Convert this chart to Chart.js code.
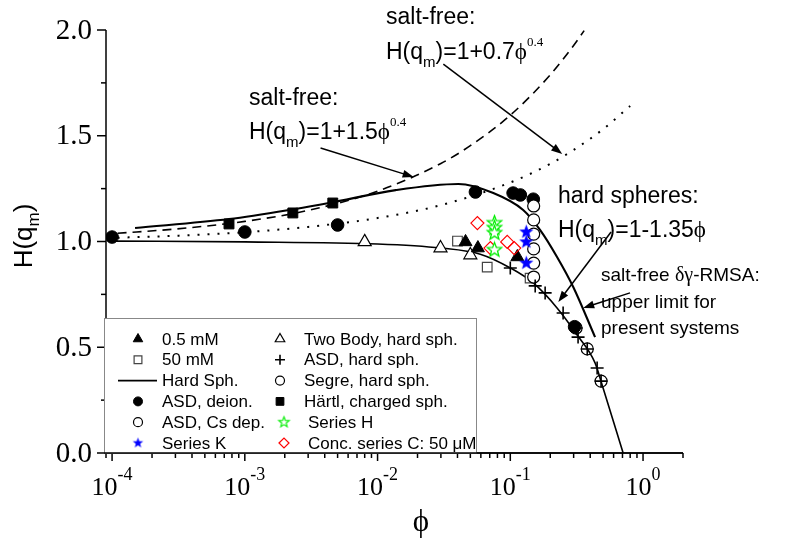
<!DOCTYPE html>
<html>
<head>
<meta charset="utf-8">
<script src="https://cdn.jsdelivr.net/npm/chart.js@4.4.0/dist/chart.umd.min.js"></script>
<style>
  html, body { margin: 0; padding: 0; background: #fff; }
  #wrap { width: 812px; height: 541px; }
</style>
</head>
<body>
<div id="wrap"><canvas id="chart"></canvas></div>
<script>
// measured structure factor peak heights H(q_m) against volume fraction phi

// 0.5 mM salt
const phi05mM = [0.046, 0.057, 0.113];
const h05mM = [0.998, 0.969, 0.927];

// 50 mM salt
const phi50mM = [0.040, 0.067, 0.141];
const h50mM = [1.002, 0.879, 0.827];

// ASD, deionized
const phiDeion = [1e-4, 1e-3, 0.005, 0.0546, 0.105, 0.119, 0.149, 0.305];
const hDeion = [1.021, 1.045, 1.078, 1.234, 1.229, 1.220, 1.200, 0.597];

// ASD, Cs depleted
const phiCsDep = [0.15, 0.15, 0.15, 0.15, 0.15, 0.15];
const hCsDep = [1.168, 1.102, 1.035, 0.965, 0.898, 0.832];

// Series K
const phiSeriesK = [0.132, 0.132, 0.132];
const hSeriesK = [1.045, 0.998, 0.898];

// Two body, hard spheres
const phiTwoBody = [0.008, 0.0298, 0.050];
const hTwoBody = [0.998, 0.969, 0.936];

// ASD, hard spheres
const phiAsdHs = [0.100, 0.154, 0.183, 0.250, 0.313, 0.324, 0.380, 0.451, 0.483];
const hAsdHs = [0.875, 0.790, 0.757, 0.662, 0.591, 0.548, 0.492, 0.402, 0.340];

// Segre, hard spheres
const phiSegre = [0.313, 0.380, 0.483];
const hSegre = [0.591, 0.492, 0.340];

// Haertl, charged spheres
const phiHaertl = [7.6e-4, 0.0023, 0.0046];
const hHaertl = [1.083, 1.135, 1.182];

// Series H
const phiSeriesH = [0.076, 0.076, 0.076, 0.076];
const hSeriesH = [1.087, 1.064, 1.040, 0.960];

// concentration series C, 50 uM
const phiConcC = [0.0565, 0.0708, 0.0948, 0.107];
const hConcC = [1.087, 0.969, 0.998, 0.969];

// hard sphere curve
const phiHardSph = [1e-4, 1e-3, 0.01, 0.03, 0.0594, 0.1, 0.149, 0.225, 0.319, 0.435, 0.492, 0.708];
const hHardSph = [1.002, 0.998, 0.988, 0.969, 0.940, 0.875, 0.804, 0.686, 0.558, 0.426, 0.321, 0.0];

// salt-free delta-gamma RMSA, upper limit
const phiRmsa = [1.49e-4, 7.6e-4, 0.0024, 0.0043, 0.0137, 0.0407, 0.0745, 0.125, 0.168, 0.225, 0.298, 0.435];
const hRmsa = [1.064, 1.106, 1.154, 1.182, 1.243, 1.272, 1.229, 1.149, 1.054, 0.927, 0.785, 0.548];

// salt-free 1+1.5phi^0.4
const phiSalt15 = [1.1e-4, 3e-4, 1e-3, 3e-3, 0.01, 0.03, 0.05, 0.1, 0.2, 0.3, 0.36];
const hSalt15 = [1.039, 1.059, 1.095, 1.147, 1.238, 1.369, 1.453, 1.597, 1.788, 1.927, 1.997];

// salt-free 1+0.7phi^0.4
const phiSalt07 = [1.1e-4, 3e-4, 1e-3, 3e-3, 0.01, 0.03, 0.1, 0.2, 0.3, 0.5, 0.8];
const hSalt07 = [1.018, 1.027, 1.044, 1.069, 1.111, 1.172, 1.279, 1.367, 1.433, 1.531, 1.641];

const yTickStep = 0.25;

const SANS = '"Liberation Sans", Arial, sans-serif';
const SERIF = '"Liberation Serif", "Times New Roman", serif';

function pts(xs, ys) {
  return xs.map((x, i) => ({ x: x, y: ys[i] }));
}

// five pointed star as an image point style
function starImage(r, fill, stroke, lw) {
  const s = Math.ceil(2 * r + lw + 2);
  const c = document.createElement('canvas');
  c.width = s; c.height = s;
  const g = c.getContext('2d');
  g.beginPath();
  for (let i = 0; i < 10; i++) {
    const a = -Math.PI / 2 + i * Math.PI / 5;
    const rr = i % 2 ? r * 0.42 : r;
    g.lineTo(s / 2 + rr * Math.cos(a), s / 2 + rr * Math.sin(a));
  }
  g.closePath();
  g.fillStyle = fill;
  g.fill();
  if (stroke) {
    g.strokeStyle = stroke;
    g.lineWidth = lw;
    g.stroke();
  }
  return c;
}

const starBlue = starImage(7.5, '#0000ff', null, 0);
const starGreen = starImage(7.5, '#fff', '#00ee00', 1.3);
const starBlueSmall = starImage(5.5, '#0000ff', null, 0);
const starGreenSmall = starImage(5.5, '#fff', '#00ee00', 1.1);

function markers(label, xs, ys, style, r, fill, stroke, bw, legendStyle, legendR) {
  return {
    label: label,
    data: pts(xs, ys),
    showLine: false,
    pointStyle: style,
    pointRadius: r,
    pointHoverRadius: r,
    pointBackgroundColor: fill,
    pointBorderColor: stroke,
    pointBorderWidth: bw,
    legendStyle: legendStyle || style,
    legendR: legendR
  };
}

function curve(label, xs, ys, width, dash) {
  return {
    label: label,
    data: pts(xs, ys),
    showLine: true,
    pointRadius: 0,
    pointHoverRadius: 0,
    borderColor: '#000',
    borderWidth: width,
    borderDash: dash,
    borderCapStyle: 'butt',
    cubicInterpolationMode: 'monotone',
    fill: false
  };
}

// first entries are drawn on top
const dsSeriesK = markers('Series K', phiSeriesK, hSeriesK, starBlue, 7, '#0000ff', '#0000ff', 0, starBlueSmall, 5);
const dsSeriesH = markers('Series H', phiSeriesH, hSeriesH, starGreen, 7, '#fff', '#00ee00', 0, starGreenSmall, 5);
const dsConcC = markers('Conc. series C: 50 \u03bcM', phiConcC, hConcC, 'rectRot', 6.5, 'rgba(255,255,255,0)', '#ff0000', 1.2, null, 5);
const ds05 = markers('0.5 mM', phi05mM, h05mM, 'triangle', 7.5, '#000', '#000', 1, null, 5.5);
const dsAsdHs = markers('ASD, hard sph.', phiAsdHs, hAsdHs, 'cross', 6.5, '#000', '#000', 1.6, null, 5);
const dsSegre = markers('Segre, hard sph.', phiSegre, hSegre, 'circle', 6, 'rgba(255,255,255,0)', '#000', 1.2, null, 4.5);
const dsCsDep = markers('ASD, Cs dep.', phiCsDep, hCsDep, 'circle', 6, '#fff', '#000', 1.2, null, 4.5);
const dsDeion = markers('ASD, deion.', phiDeion, hDeion, 'circle', 6.3, '#000', '#000', 1, null, 4.5);
const ds50 = markers('50 mM', phi50mM, h50mM, 'rect', 6.8, '#fff', '#444', 1.2, null, 5.5);
const dsTwoBody = markers('Two Body, hard sph.', phiTwoBody, hTwoBody, 'triangle', 7.5, '#fff', '#000', 1.2, null, 5.5);
const dsHaertl = markers('H\u00e4rtl, charged sph.', phiHaertl, hHaertl, 'rect', 7, '#000', '#000', 1, null, 5.5);
const dsHardSph = curve('Hard Sph.', phiHardSph, hHardSph, 1.6, []);
const dsRmsa = curve('RMSA', phiRmsa, hRmsa, 2.1, []);
const dsSalt15 = curve('1+1.5', phiSalt15, hSalt15, 1.6, [9, 6]);
const dsSalt07 = curve('1+0.7', phiSalt07, hSalt07, 2, [2, 8]);

const datasets = [dsSeriesK, dsSeriesH, dsConcC, ds05, dsAsdHs, dsSegre, dsCsDep, dsDeion,
  ds50, dsTwoBody, dsHaertl, dsHardSph, dsRmsa, dsSalt15, dsSalt07];

// legend is laid out column by column, inside the plot
const legendCols = [
  [ds05, ds50, dsHardSph, dsDeion, dsCsDep, dsSeriesK],
  [dsTwoBody, dsAsdHs, dsSegre, dsHaertl, dsSeriesH, dsConcC]
];

// annotations: text lines with sub/superscripts, and arrows in data coordinates
const notes = [
  { x: 386, y: 24, parts: [['salt-free:', 23, SANS, 0]] },
  { x: 386, y: 59, parts: [['H(q', 23, SANS, 0], ['m', 15, SANS, 8], [')=1+0.7', 23, SANS, 0], ['\u03d5', 23, SERIF, 0], ['0.4', 13, SERIF, -13]] },
  { x: 249, y: 105, parts: [['salt-free:', 23, SANS, 0]] },
  { x: 249, y: 139, parts: [['H(q', 23, SANS, 0], ['m', 15, SANS, 8], [')=1+1.5', 23, SANS, 0], ['\u03d5', 23, SERIF, 0], ['0.4', 13, SERIF, -13]] },
  { x: 558, y: 203, parts: [['hard spheres:', 23, SANS, 0]] },
  { x: 558, y: 237, parts: [['H(q', 23, SANS, 0], ['m', 15, SANS, 8], [')=1-1.35', 23, SANS, 0], ['\u03d5', 23, SERIF, 0]] },
  { x: 601, y: 281, parts: [['salt-free ', 19, SANS, 0], ['\u03b4\u03b3', 20, SERIF, 0], ['-RMSA:', 19, SANS, 0]] },
  { x: 601, y: 308, parts: [['upper limit for', 19, SANS, 0]] },
  { x: 601, y: 334, parts: [['present systems', 19, SANS, 0]] }
];

const arrows = [
  [0.00372, 1.442, 0.0187, 1.305],
  [0.0313, 1.839, 0.246, 1.414],
  [0.574, 1.045, 0.230, 0.714],
  [0.798, 0.757, 0.354, 0.686]
];

function rich(ctx, x, y, parts, align) {
  let w = 0;
  parts.forEach(p => { ctx.font = p[1] + 'px ' + p[2]; w += ctx.measureText(p[0]).width; });
  let cx = align === 'center' ? x - w / 2 : x;
  parts.forEach(p => {
    ctx.font = p[1] + 'px ' + p[2];
    ctx.fillText(p[0], cx, y + p[3]);
    cx += ctx.measureText(p[0]).width;
  });
}

function seg(ctx, x0, y0, x1, y1) {
  ctx.beginPath();
  ctx.moveTo(x0, y0);
  ctx.lineTo(x1, y1);
  ctx.stroke();
}

function arrow(ctx, x0, y0, x1, y1) {
  const a = Math.atan2(y1 - y0, x1 - x0);
  const len = 11, half = 4;
  seg(ctx, x0, y0, x1 - Math.cos(a) * len * 0.8, y1 - Math.sin(a) * len * 0.8);
  ctx.beginPath();
  ctx.moveTo(x1, y1);
  ctx.lineTo(x1 - Math.cos(a) * len - Math.sin(a) * half, y1 - Math.sin(a) * len + Math.cos(a) * half);
  ctx.lineTo(x1 - Math.cos(a) * len + Math.sin(a) * half, y1 - Math.sin(a) * len - Math.cos(a) * half);
  ctx.closePath();
  ctx.fill();
}

const decor = {
  id: 'decor',
  afterDraw(chart) {
    const ctx = chart.ctx;
    const a = chart.chartArea;
    const xs = chart.scales.x, ys = chart.scales.y;
    ctx.save();
    ctx.strokeStyle = '#000';
    ctx.fillStyle = '#000';
    ctx.lineWidth = 1.5;

    // left and bottom axis lines
    seg(ctx, a.left, a.top, a.left, a.bottom);
    seg(ctx, a.left, a.bottom, a.right, a.bottom);

    // y ticks and labels
    ctx.textAlign = 'right';
    ctx.textBaseline = 'middle';
    ys.ticks.forEach(t => {
      const py = ys.getPixelForValue(t.value);
      const major = Math.abs(t.value * 2 - Math.round(t.value * 2)) < 1e-6;
      seg(ctx, a.left - (major ? 9 : 5), py, a.left, py);
      if (major) {
        ctx.font = '29px ' + SERIF;
        ctx.fillText(t.value.toFixed(1), a.left - 14, py + 1);
      }
    });

    // x ticks: decades and their 2..9 subdivisions
    ctx.textAlign = 'left';
    ctx.textBaseline = 'alphabetic';
    const e0 = Math.floor(Math.log10(xs.min)), e1 = Math.ceil(Math.log10(xs.max));
    for (let e = e0; e <= e1; e++) {
      for (let k = 1; k <= 9; k++) {
        const v = k * Math.pow(10, e);
        if (v < xs.min * 0.999 || v > xs.max * 1.001) continue;
        const px = xs.getPixelForValue(v);
        seg(ctx, px, a.bottom, px, a.bottom + (k === 1 ? 8 : 5));
        if (k === 1) {
          rich(ctx, px, a.bottom + 42, [['10', 26, SERIF, 0], [String(e), 18, SERIF, -15]], 'center');
        }
      }
    }

    // axis titles
    ctx.font = '31px ' + SERIF;
    ctx.textAlign = 'center';
    ctx.fillText('\u03d5', 421, 531);
    ctx.textAlign = 'left';
    ctx.save();
    ctx.translate(32, 236);
    ctx.rotate(-Math.PI / 2);
    rich(ctx, 0, 0, [['H(q', 26, SANS, 0], ['m', 17, SANS, 7], [')', 26, SANS, 0]], 'center');
    ctx.restore();

    // annotation texts and arrows
    notes.forEach(n => rich(ctx, n.x, n.y, n.parts));
    ctx.lineWidth = 1.5;
    arrows.forEach(r => arrow(ctx,
      xs.getPixelForValue(r[0]), ys.getPixelForValue(r[1]),
      xs.getPixelForValue(r[2]), ys.getPixelForValue(r[3])));

    // legend box
    const bx = 104.5, by = 318.5, bw = 372, bh = 135;
    ctx.fillStyle = '#fff';
    ctx.fillRect(bx, by, bw, bh);
    ctx.strokeStyle = '#888';
    ctx.lineWidth = 1;
    ctx.strokeRect(bx, by, bw, bh);
    ctx.strokeStyle = '#000';
    ctx.lineWidth = 1.5;
    seg(ctx, bx - 0.5, a.bottom, a.right, a.bottom);

    const symX = [138, 280], textX = [162, 304];
    ctx.font = '17px ' + SANS;
    ctx.textBaseline = 'middle';
    legendCols.forEach((col, ci) => {
      col.forEach((ds, ri) => {
        const ry = 339 + ri * 20.8;
        const shift = ci === 1 && ri >= 4 ? 4 : 0;
        const sx = symX[ci] + shift;
        if (ds.showLine) {
          ctx.strokeStyle = '#000';
          ctx.lineWidth = 1.6;
          seg(ctx, 118, ry, 157, ry);
        } else {
          ctx.fillStyle = ds.pointBackgroundColor;
          ctx.strokeStyle = ds.pointBorderColor;
          ctx.lineWidth = ds.pointBorderWidth;
          Chart.helpers.drawPoint(ctx, {
            pointStyle: ds.legendStyle, radius: ds.legendR,
            borderWidth: ds.pointBorderWidth, rotation: 0
          }, sx, ry);
        }
        ctx.fillStyle = '#000';
        ctx.font = '17px ' + SANS;
        ctx.fillText(ds.label, textX[ci] + shift, ry + 1);
      });
    });
    ctx.restore();
  }
};

new Chart(document.getElementById('chart'), {
  type: 'scatter',
  data: { datasets: datasets },
  options: {
    responsive: true,
    maintainAspectRatio: false,
    animation: false,
    events: [],
    layout: { padding: { left: 106, right: 129, top: 30, bottom: 88 } },
    plugins: { legend: { display: false }, tooltip: { enabled: false } },
    scales: {
      x: {
        type: 'logarithmic',
        min: 9e-5,
        max: 2,
        ticks: { display: false },
        grid: { display: false },
        border: { display: false },
        afterFit(s) { s.height = 0; }
      },
      y: {
        type: 'linear',
        min: 0,
        max: 2,
        ticks: { display: false, stepSize: yTickStep },
        grid: { display: false },
        border: { display: false },
        afterFit(s) { s.width = 0; }
      }
    }
  },
  plugins: [decor]
});
</script>
</body>
</html>
